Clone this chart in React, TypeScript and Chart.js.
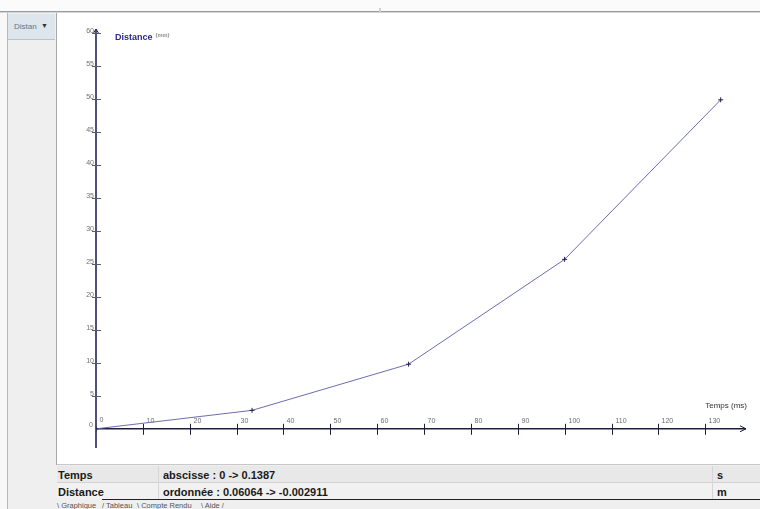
import React, { useEffect, useRef } from "react";
import { Chart, registerables } from "chart.js";

Chart.register(...registerables);

// Measured series: time (ms) and distance (mm)
const timeMs = [0, 33.3, 66.7, 100, 133.3];
const distanceMm = [0, 2.8, 9.8, 25.7, 49.9];

// Axis graduations
const xTicks = [0, 10, 20, 30, 40, 50, 60, 70, 80, 90, 100, 110, 120, 130];
const yTicks = [0, 5, 10, 15, 20, 25, 30, 35, 40, 45, 50, 55, 60];

// Axis extents (ms / mm)
const X_MIN = 0;
const X_MAX = 138.7;
const Y_MIN = -2.911;
const Y_MAX = 60.64;

// Bottom page tabs
const tabs = [
  { label: "\\ Graphique", left: 57 },
  { label: "/ Tableau", left: 102 },
  { label: "\\ Compte Rendu", left: 137 },
  { label: "\\ Aide /", left: 201 },
];

const FONT = '"Liberation Sans", Arial, sans-serif';

const crossAxes = {
  id: "crossAxes",
  beforeDatasetsDraw(chart: any) {
    const { ctx, chartArea } = chart;
    const xs = chart.scales.x;
    const ys = chart.scales.y;
    const x0 = xs.getPixelForValue(0);
    const y0 = ys.getPixelForValue(0);
    ctx.save();

    // vertical axis with arrow
    ctx.strokeStyle = "#24245c";
    ctx.lineWidth = 1.6;
    ctx.beginPath();
    ctx.moveTo(x0, chartArea.bottom);
    ctx.lineTo(x0, chartArea.top);
    ctx.stroke();
    ctx.lineWidth = 1;
    ctx.beginPath();
    ctx.moveTo(x0 - 3, chartArea.top + 5);
    ctx.lineTo(x0, chartArea.top);
    ctx.lineTo(x0 + 3, chartArea.top + 5);
    ctx.stroke();

    // horizontal axis with arrow
    ctx.strokeStyle = "#1e1e3a";
    ctx.lineWidth = 1.5;
    ctx.beginPath();
    ctx.moveTo(x0, y0);
    ctx.lineTo(chartArea.right, y0);
    ctx.stroke();
    ctx.lineWidth = 1;
    ctx.beginPath();
    ctx.moveTo(chartArea.right - 6, y0 - 3);
    ctx.lineTo(chartArea.right, y0);
    ctx.lineTo(chartArea.right - 6, y0 + 3);
    ctx.stroke();

    ctx.font = `7px ${FONT}`;
    ctx.fillStyle = "#6e6e6e";

    // vertical graduations
    ctx.strokeStyle = "#5a5a70";
    ctx.lineWidth = 1;
    ctx.textAlign = "right";
    ctx.textBaseline = "alphabetic";
    yTicks.forEach((v) => {
      const py = Math.round(ys.getPixelForValue(v)) + 0.5;
      if (v !== 0) {
        ctx.beginPath();
        ctx.moveTo(x0 - 4, py);
        ctx.lineTo(x0 + 5, py);
        ctx.stroke();
        ctx.fillText(String(v), x0 - 2, py - 1);
      } else {
        ctx.fillText(String(v), x0 - 3, py - 3);
      }
    });

    // horizontal graduations
    ctx.strokeStyle = "#1e1e3a";
    ctx.textAlign = "left";
    xTicks.forEach((v) => {
      const px = Math.round(xs.getPixelForValue(v)) + 0.5;
      if (v !== 0) {
        ctx.beginPath();
        ctx.moveTo(px, y0 - 5);
        ctx.lineTo(px, y0 + 6);
        ctx.stroke();
        ctx.fillText(String(v), px + 3, y0 - 6);
      } else {
        ctx.fillText(String(v), px + 3, y0 - 7);
      }
    });

    // axis titles
    ctx.textAlign = "left";
    ctx.font = `bold 9px ${FONT}`;
    ctx.fillStyle = "#2a2a86";
    ctx.fillText("Distance", x0 + 19, chartArea.top + 11);
    const w = ctx.measureText("Distance").width;
    ctx.font = `6px ${FONT}`;
    ctx.fillStyle = "#555";
    ctx.fillText("(mm)", x0 + 22 + w, chartArea.top + 8);

    ctx.textAlign = "right";
    ctx.font = `8px ${FONT}`;
    ctx.fillStyle = "#333";
    ctx.fillText("Temps (ms)", chartArea.right + 1, y0 - 21);

    ctx.restore();
  },
};

function DistanceChart() {
  const ref = useRef<HTMLCanvasElement | null>(null);
  useEffect(() => {
    if (!ref.current) return;
    const chart = new Chart(ref.current, {
      type: "line",
      data: {
        datasets: [
          {
            data: timeMs.map((t, i) => ({ x: t, y: distanceMm[i] })),
            borderColor: "#6c6cb2",
            borderWidth: 1,
            pointStyle: "cross",
            pointRadius: 2.5,
            pointBorderColor: "#20204a",
            pointBorderWidth: 1,
            tension: 0,
            fill: false,
          },
        ],
      },
      options: {
        responsive: false,
        animation: false,
        layout: { padding: { left: 39, right: 14, top: 16, bottom: 15 } },
        plugins: { legend: { display: false }, tooltip: { enabled: false } },
        scales: {
          x: { type: "linear", min: X_MIN, max: X_MAX, display: false },
          y: { type: "linear", min: Y_MIN, max: Y_MAX, display: false },
        },
      },
      plugins: [crossAxes],
    });
    return () => chart.destroy();
  }, []);
  return <canvas ref={ref} width={703} height={450} style={{ display: "block", width: 703, height: 450 }} />;
}

const abs = (l: number, t: number, w: number, h: number, extra: React.CSSProperties = {}): React.CSSProperties => ({
  position: "absolute",
  left: l,
  top: t,
  width: w,
  height: h,
  boxSizing: "border-box",
  ...extra,
});

export default function App() {
  const cell: React.CSSProperties = {
    fontFamily: FONT,
    fontWeight: "bold",
    fontSize: 11,
    color: "#1a1a1a",
    whiteSpace: "nowrap",
  };
  return (
    <div style={{ position: "fixed", left: 0, top: 0, width: 760, height: 509, overflow: "hidden", background: "#efefef", fontFamily: FONT }}>
      {/* top strip */}
      <div style={abs(0, 0, 760, 11, { background: "#fbfbfb" })} />
      <div style={abs(0, 11, 760, 1, { background: "#9a9a9a" })} />
      <div style={abs(0, 12, 760, 1, { background: "#d6d6d6" })} />
      <div style={abs(379, 8, 2, 7, { background: "#d0d0d0" })} />

      {/* left side panel */}
      <div style={abs(0, 13, 7, 496, { background: "#f8f8f8" })} />
      <div style={abs(7, 13, 1, 496, { background: "#b8b8b8" })} />
      <div style={abs(8, 14, 47, 26, { background: "#dde5ed", borderBottom: "1px solid #b9c2cc" })}>
        <span style={{ position: "absolute", left: 6, top: 8, fontSize: 8, color: "#5c7891" }}>Distan</span>
        <span style={{ position: "absolute", left: 33, top: 8, fontSize: 7, color: "#333" }}>▼</span>
      </div>
      <div style={abs(56, 13, 1, 452, { background: "#a8a8a8" })} />

      {/* chart panel */}
      <div style={abs(57, 13, 703, 451, { background: "#ffffff" })}>
        <DistanceChart />
      </div>
      <div style={abs(57, 464, 703, 1, { background: "#c8c8c8" })} />

      {/* range summary table */}
      <div style={abs(57, 466, 703, 17, { background: "#e8e8e8", borderBottom: "1px solid #d2d2d2" })} />
      <div style={abs(57, 483, 703, 16, { background: "#f1f1f1" })} />
      <div style={abs(158, 466, 1, 33, { background: "#d6d6d6" })} />
      <div style={abs(712, 466, 1, 33, { background: "#d6d6d6" })} />

      <div style={{ ...cell, position: "absolute", left: 58, top: 469 }}>Temps</div>
      <div style={{ ...cell, position: "absolute", left: 163, top: 469 }}>abscisse : 0 -&gt; 0.1387</div>
      <div style={{ ...cell, position: "absolute", left: 717, top: 469 }}>s</div>
      <div style={{ ...cell, position: "absolute", left: 58, top: 486 }}>Distance</div>
      <div style={{ ...cell, position: "absolute", left: 163, top: 486 }}>ordonnée : 0.06064 -&gt; -0.002911</div>
      <div style={{ ...cell, position: "absolute", left: 717, top: 486 }}>m</div>

      {/* page tabs */}
      <div style={abs(102, 499, 658, 1, { background: "#222" })} />
      {tabs.map((t) => (
        <div key={t.label} style={{ position: "absolute", left: t.left, top: 501, fontSize: 7.5, color: "#555", whiteSpace: "nowrap" }}>
          {t.label}
        </div>
      ))}
    </div>
  );
}
